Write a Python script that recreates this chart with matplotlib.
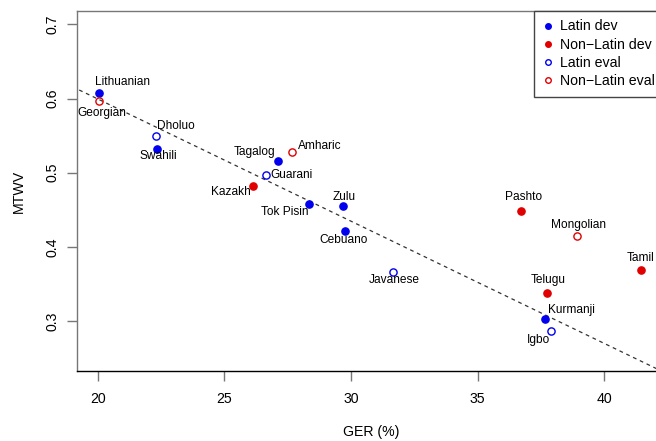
import numpy as np
import matplotlib.pyplot as plt
from matplotlib.lines import Line2D

plt.rcParams['font.family'] = ['Liberation Sans', 'DejaVu Sans']

# datos
langs = ['Lithuanian', 'Georgian', 'Dholuo', 'Swahili', 'Tagalog', 'Amharic',
         'Guarani', 'Kazakh', 'Tok Pisin', 'Zulu', 'Cebuano', 'Pashto',
         'Mongolian', 'Tamil', 'Javanese', 'Telugu', 'Kurmanji', 'Igbo']
ger = [20.05, 20.04, 22.31, 22.34, 27.13, 27.68, 26.64, 26.12, 28.33, 29.67,
       29.76, 36.70, 38.91, 41.44, 31.65, 37.73, 37.66, 37.91]
mtwv = [0.608, 0.596, 0.549, 0.532, 0.516, 0.528, 0.497, 0.482, 0.458, 0.455,
        0.421, 0.449, 0.414, 0.369, 0.366, 0.338, 0.303, 0.287]
# grupo: 'ld' latin dev, 'nd' non-latin dev, 'le' latin eval, 'ne' non-latin eval
grupo = ['ld', 'ne', 'le', 'ld', 'ld', 'ne', 'le', 'nd', 'ld', 'ld',
         'ld', 'nd', 'ne', 'nd', 'le', 'nd', 'ld', 'le']
fit_coef = [-0.01648, 0.929]  # pendiente, intercepto de la recta

# desplazamiento de las etiquetas (pixeles)
offsets = [(23.5, 10.6), (3, -11.6), (20, 10), (1.7, -7.4), (-24, 9),
           (28, 6.3), (25.7, 0.3), (-22.2, -5.7), (-24, -8.3), (1.3, 9.3),
           (-1.3, -8.3), (3, 14), (2, 11), (0, 12), (1.5, -7.7), (1.3, 13),
           (26.7, 8.3), (-13, -9)]

azul = '#0000ee'
rojo = '#e00000'
estilos = {
    'ld': dict(mfc=azul, mec=azul),
    'nd': dict(mfc=rojo, mec=rojo),
    'le': dict(mfc='none', mec=azul),
    'ne': dict(mfc='none', mec=rojo),
}

fig = plt.figure(figsize=(6.56, 4.41), dpi=100)
ax = fig.add_axes([77/656, 70/441, 588/656, 360/441])

x_line = np.array([19.0, 43.0])
ax.plot(x_line, np.polyval(fit_coef, x_line), ls=(0, (3, 3)), color='#333333', lw=0.9)

for g, x, y in zip(grupo, ger, mtwv):
    ax.plot(x, y, 'o', ms=5.2, mew=1.0, **estilos[g])

for name, x, y, off in zip(langs, ger, mtwv, offsets):
    ax.annotate(name, (x, y), xytext=off, textcoords='offset pixels',
                ha='center', va='center', fontsize=8.6)

ax.set_xlim(19.18, 42.40)
ax.set_ylim(0.2326, 0.718)
ax.set_xticks([20, 25, 30, 35, 40])
ax.set_yticks([0.3, 0.4, 0.5, 0.6, 0.7])
ax.set_yticklabels(['0.3', '0.4', '0.5', '0.6', '0.7'], rotation=90, va='center')
ax.tick_params(axis='both', labelsize=10.2, length=7, width=1, color='#777777')
ax.tick_params(axis='x', pad=8)
ax.tick_params(axis='y', pad=5.5)
ax.spines['right'].set_visible(False)
ax.spines['left'].set_color('#777777')
ax.spines['top'].set_color('#777777')
ax.spines['bottom'].set_color('black')
for s in ax.spines.values():
    s.set_linewidth(1)

ax.set_xlabel('GER (%)', fontsize=10.2, labelpad=14)
ax.set_ylabel('MTWV', fontsize=10.2, labelpad=14)

handles = [
    Line2D([], [], ls='none', marker='o', ms=4, mfc=azul, mec=azul),
    Line2D([], [], ls='none', marker='o', ms=4, mfc=rojo, mec=rojo),
    Line2D([], [], ls='none', marker='o', ms=4, mfc='none', mec=azul),
    Line2D([], [], ls='none', marker='o', ms=4, mfc='none', mec=rojo),
]
labels = ['Latin dev', 'Non\u2212Latin dev', 'Latin eval', 'Non\u2212Latin eval']
leg = fig.legend(handles, labels, loc='upper left',
                 bbox_to_anchor=(534/656, 1 - 11/441), bbox_transform=fig.transFigure,
                 fontsize=10.2, frameon=True, fancybox=False, framealpha=1,
                 edgecolor='#444444', borderpad=0.6, handlelength=0.8,
                 handletextpad=0.45, labelspacing=0.3, borderaxespad=0)
leg.get_frame().set_linewidth(1)

fig.savefig('out.png', dpi=100)
